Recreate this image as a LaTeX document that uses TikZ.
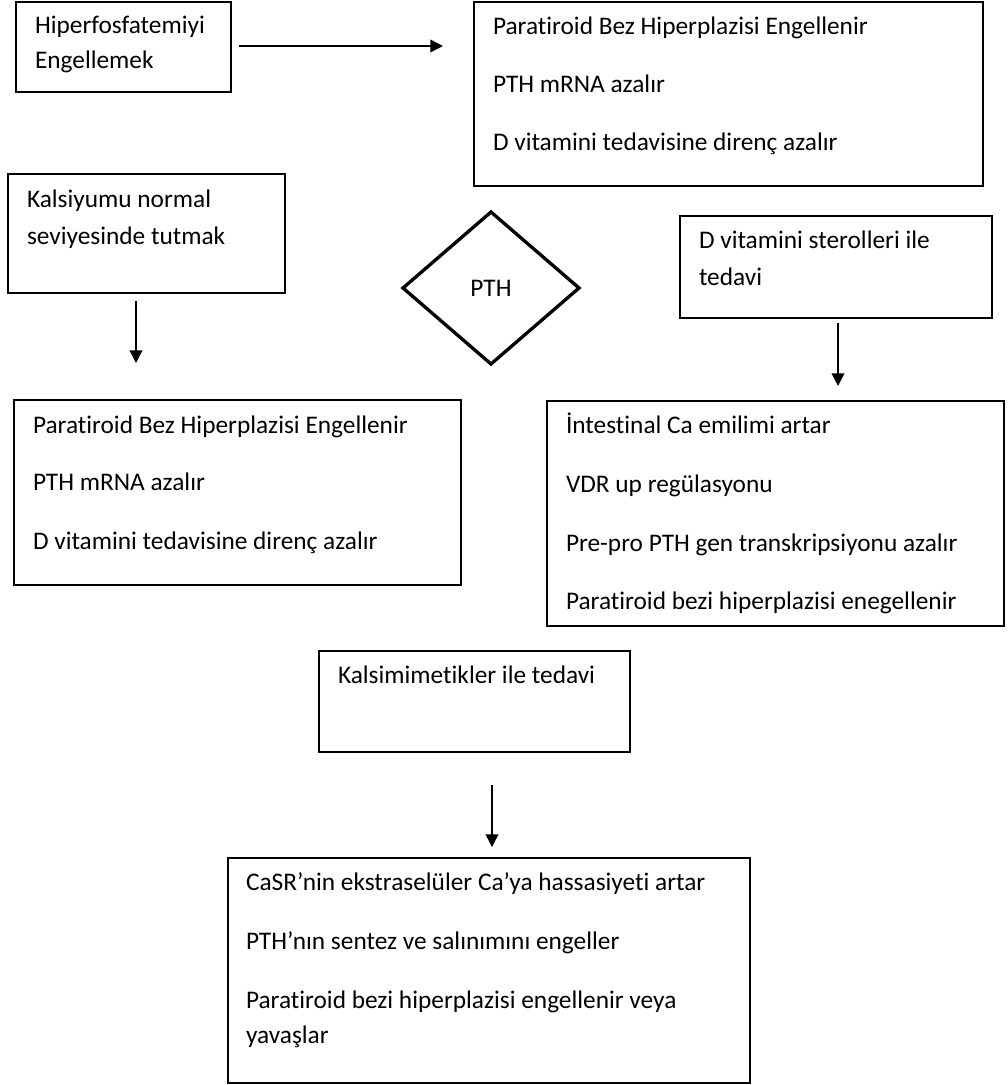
\documentclass[tikz,border=0pt]{standalone}
\usepackage{fontspec}
\setmainfont{Carlito}[Ligatures={NoCommon,NoRare,NoContextual}]
\usetikzlibrary{shapes.geometric,arrows.meta,calc}
\begin{document}
\begin{tikzpicture}[x=0.75pt,y=-0.75pt,
  box/.style={draw=black,line width=1.5pt,rectangle,inner sep=0pt,outer sep=0pt,anchor=north west},
  txt/.style={anchor=base west,inner sep=0pt,outer sep=0pt,font=\fontsize{19}{23}\selectfont},
  arr/.style={draw=black,line width=1.1pt,-{Triangle[length=9.5pt,width=9.5pt]}},
  dia/.style={draw=black,line width=2.5pt,diamond,inner sep=0pt,outer sep=0pt,minimum width=132pt,minimum height=114pt,font=\fontsize{19}{23}\selectfont}]
\useasboundingbox (0,0) rectangle (1007,1085);
% boxes
\node[box,minimum width=161.25pt,minimum height=67.5pt] (b1) at (16,2) {};
\node[box,minimum width=381.75pt,minimum height=138pt] (b2) at (474,2) {};
\node[box,minimum width=207.75pt,minimum height=89.25pt] (b3) at (8,174) {};
\node[box,minimum width=234pt,minimum height=76.5pt] (b4) at (680,216) {};
\node[box,minimum width=335.25pt,minimum height=138.75pt] (b5) at (14,400) {};
\node[box,minimum width=342.75pt,minimum height=168.75pt] (b6) at (547,401) {};
\node[box,minimum width=233.25pt,minimum height=75.75pt] (b7) at (319,651) {};
\node[box,minimum width=391.5pt,minimum height=168.75pt] (b8) at (228,858) {};
\node[dia] (pth) at (491,288) {PTH};
% texts
\node[txt] (t1a) at (35,33) {Hiperfosfatemiyi};
\node[txt] (t1b) at (35,68) {Engellemek};
\node[txt] (t2a) at (493,34) {Paratiroid Bez Hiperplazisi Engellenir};
\node[txt] (t2b) at (493,92) {PTH mRNA azalır};
\node[txt] (t2c) at (493,150) {D vitamini tedavisine direnç azalır};
\node[txt] (t3a) at (27,207) {Kalsiyumu normal};
\node[txt] (t3b) at (27,244) {seviyesinde tutmak};
\node[txt] (t4a) at (699,248) {D vitamini sterolleri ile};
\node[txt] (t4b) at (699,285) {tedavi};
\node[txt] (t5a) at (33,433) {Paratiroid Bez Hiperplazisi Engellenir};
\node[txt] (t5b) at (33,490) {PTH mRNA azalır};
\node[txt] (t5c) at (33,549) {D vitamini tedavisine direnç azalır};
\node[txt] (t6a) at (566,433) {İntestinal Ca emilimi artar};
\node[txt] (t6b) at (566,492) {VDR up regülasyonu};
\node[txt] (t6c) at (566,551) {Pre-pro PTH gen transkripsiyonu azalır};
\node[txt] (t6d) at (566,609) {Paratiroid bezi hiperplazisi enegellenir};
\node[txt] (t7a) at (338,683) {Kalsimimetikler ile tedavi};
\node[txt] (t8a) at (246,890) {CaSR’nin ekstraselüler Ca’ya hassasiyeti artar};
\node[txt] (t8b) at (246,949) {PTH’nın sentez ve salınımını engeller};
\node[txt] (t8c) at (246,1008) {Paratiroid bezi hiperplazisi engellenir veya};
\node[txt] (t8d) at (246,1043) {yavaşlar};
% arrows
\draw[arr] ($(b1.east)+(8,-1)$) -- ($(b2.west|-b1.east)+(-31,-1)$);
\draw[arr] ($(b3.south west)+(128,8)$) -- ($(b3.south west)+(128,70)$);
\draw[arr] ($(b4.south west)+(158,5)$) -- ($(b4.south west)+(158,68)$);
\draw[arr] ($(b7.south west)+(173,33)$) -- ($(b7.south west)+(173,95)$);
\end{tikzpicture}
\end{document}
